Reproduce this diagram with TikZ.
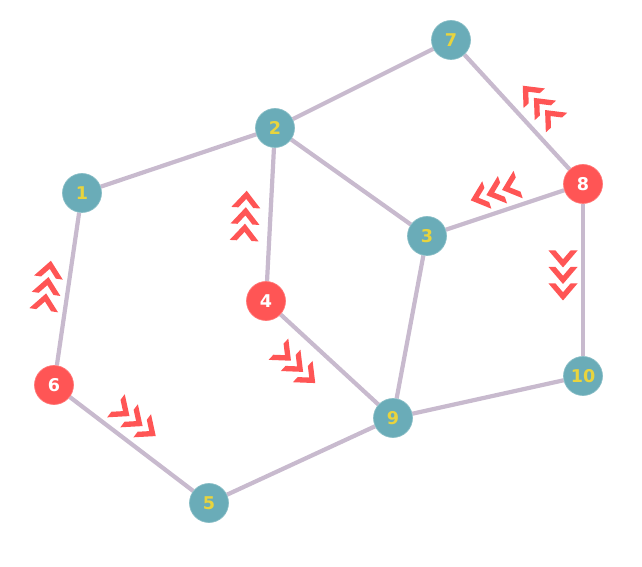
\documentclass[tikz,border=0pt]{standalone}
\usepackage{fontspec}
\setsansfont{DejaVu Sans}
\usetikzlibrary{backgrounds}
\definecolor{nodeteal}{RGB}{106,172,184}
\definecolor{nodered}{RGB}{255,85,85}
\definecolor{edgelilac}{RGB}{200,186,206}
\definecolor{labelyellow}{RGB}{232,212,62}
\tikzset{
  vertex_teal/.style={circle, fill=nodeteal, draw=nodeteal!80!white, thin, minimum size=0.78cm, inner sep=0pt, font=\sffamily\bfseries\fontsize{10}{12}\selectfont, text=labelyellow},
  vertex_red/.style={vertex_teal, fill=nodered, draw=nodered!80!white, text=white},
  link/.style={draw=edgelilac, line width=2.4pt},
  chev_on/.style={pos=0.5, sloped, allow upside down},
  pics/chevrons/.style n args={2}{code={
    \begin{scope}[shift={(#1,#2)}]
      \foreach \k in {-0.33,0,0.33}
        \fill[nodered, shift={(\k,0)}] (0.20,0) -- (-0.14,0.29) -- (-0.14,0.15) -- (0.036,0) -- (-0.14,-0.15) -- (-0.14,-0.29) -- cycle;
    \end{scope}
  }}
}

\begin{document}
\begin{tikzpicture}
  \useasboundingbox (0,0) rectangle (12.84,11.34);

  % --- vertices ---
  \node[vertex_teal] (n1) at (1.64, 7.48) {1};
  \node[vertex_teal] (n2) at (5.50, 8.78) {2};
  \node[vertex_teal] (n3) at (8.54, 6.62) {3};
  \node[vertex_red]  (n4) at (5.32, 5.32) {4};
  \node[vertex_teal] (n5) at (4.18, 1.28) {5};
  \node[vertex_red]  (n6) at (1.08, 3.64) {6};
  \node[vertex_teal] (n7) at (9.02, 10.54) {7};
  \node[vertex_red]  (n8) at (11.66, 7.66) {8};
  \node[vertex_teal] (n9) at (7.86, 2.98) {9};
  \node[vertex_teal] (n10) at (11.66, 3.82) {10};

  % --- edges ---
  \begin{scope}[on background layer]
    \draw[link] (n1) -- (n2);
    \draw[link] (n2) -- (n7);
    \draw[link] (n2) -- (n3);
    \draw[link] (n2) -- (n4);
    \draw[link] (n1) -- (n6);
    \draw[link] (n6) -- (n5);
    \draw[link] (n5) -- (n9);
    \draw[link] (n4) -- (n9);
    \draw[link] (n3) -- (n9);
    \draw[link] (n9) -- (n10);
    \draw[link] (n3) -- (n8);
    \draw[link] (n8) -- (n7);
    \draw[link] (n8) -- (n10);
  \end{scope}

  % --- flow marks out of the red vertices ---
  \path (n6) -- (n1) pic[chev_on] {chevrons={-0.02}{0.42}};
  \path (n6) -- (n5) pic[chev_on] {chevrons={-0.24}{0.42}};
  \path (n4) -- (n2) pic[chev_on] {chevrons={-0.08}{0.50}};
  \path (n4) -- (n9) pic[chev_on] {chevrons={-0.42}{-0.54}};
  \path (n8) -- (n7) pic[chev_on] {chevrons={-0.22}{-0.44}};
  \path (n8) -- (n3) pic[chev_on] {chevrons={0.06}{-0.40}};
  \path (n8) -- (n10) pic[chev_on] {chevrons={-0.12}{-0.40}};
\end{tikzpicture}
\end{document}
